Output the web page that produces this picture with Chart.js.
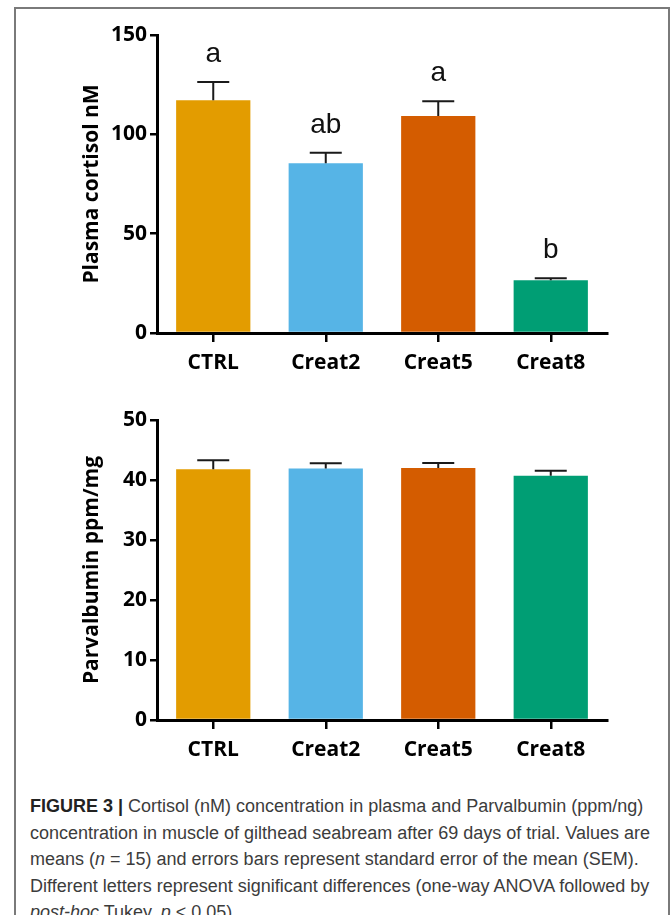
<!DOCTYPE html>
<html>
<head>
<meta charset="utf-8">
<script src="https://cdn.jsdelivr.net/npm/chart.js@4.4.1/dist/chart.umd.min.js"></script>
<style>
	body { margin: 0; background: #fff; width: 670px; height: 915px; overflow: hidden; position: relative; }
	#marc { position: absolute; left: 14px; top: 7px; width: 652px; height: 930px; border: 2px solid #7a7a7a; }
	canvas { position: absolute; left: 0; }
	#cortisol { top: 0; }
	#parv { top: 385px; }
	#peu { position: absolute; left: 30px; top: 793px; font-family: "Liberation Sans", Arial, sans-serif; font-size: 18px; line-height: 26.5px; color: #3c3c3c; }
	#peu div { white-space: nowrap; }
</style>
</head>
<body>
<div id="marc"></div>
<canvas id="cortisol" width="670" height="390"></canvas>
<canvas id="parv" width="670" height="390"></canvas>
<div id="peu">
	<div><b style="color:#222">FIGURE 3 |</b> Cortisol (nM) concentration in plasma and Parvalbumin (ppm/ng)</div>
	<div>concentration in muscle of gilthead seabream after 69 days of trial. Values are</div>
	<div>means (<i>n</i> = 15) and errors bars represent standard error of the mean (SEM).</div>
	<div>Different letters represent significant differences (one-way ANOVA followed by</div>
	<div><i>post-hoc</i> Tukey, <i>p</i> &lt; 0.05).</div>
</div>
<script>
// Grups i colors
const grups = ['CTRL', 'Creat2', 'Creat5', 'Creat8'];
const colors = ['#E39C00', '#56B4E6', '#D45C00', '#009E74'];

// Cortisol plasmàtic (nM)
const cortisol = [117.2, 85.5, 109.2, 26.6];
const cortisolSem = [9.2, 5.2, 7.5, 1.0];
const lletres = ['a', 'ab', 'a', 'b'];
const cortisolTicks = [0, 50, 100, 150];

// Parvalbumina (ppm/mg)
const parv = [41.8, 41.9, 42.0, 40.7];
const parvSem = [1.5, 0.9, 0.85, 0.85];
const parvTicks = [0, 10, 20, 30, 40, 50];

// dibuixa les barres d'error i les lletres de significació
const errorBars = {
	id: 'errorBars',
	afterDatasetsDraw(chart) {
		const ctx = chart.ctx;
		const ds = chart.data.datasets[0];
		const y = chart.scales.y;
		chart.getDatasetMeta(0).data.forEach((bar, i) => {
			let dalt = y.getPixelForValue(ds.data[i] + ds.errors[i]);
			ctx.save();
			ctx.strokeStyle = '#1a1a1a';
			ctx.lineWidth = 2;
			ctx.beginPath();
			ctx.moveTo(bar.x, bar.y);
			ctx.lineTo(bar.x, dalt);
			ctx.moveTo(bar.x - 16, dalt);
			ctx.lineTo(bar.x + 16, dalt);
			ctx.stroke();
			if (ds.lletres) {
				ctx.fillStyle = '#111';
				ctx.font = '28px "Liberation Sans", Arial, sans-serif';
				ctx.textAlign = 'center';
				ctx.textBaseline = 'alphabetic';
				ctx.fillText(ds.lletres[i], bar.x, dalt - 20);
			}
			ctx.restore();
		});
	}
};

function grafic(id, valors, errors, ticks, titol, lletresGrup) {
	const tickFont = { family: 'Open Sans', weight: 'bold', size: 21 };
	const config = {
		type: 'bar',
		data: {
			labels: grups,
			datasets: [{
				data: valors,
				errors: errors,
				lletres: lletresGrup,
				backgroundColor: colors,
				borderWidth: 0,
				barPercentage: 0.66,
				categoryPercentage: 1
			}]
		},
		options: {
			responsive: false,
			animation: false,
			layout: { padding: { left: 0, right: 63, top: 35, bottom: id === 'cortisol' ? 7 : 5 } },
			plugins: { legend: { display: false }, tooltip: { enabled: false } },
			scales: {
				x: {
					afterFit: (s) => { s.height = 50; },
					grid: { offset: false, drawOnChartArea: false, tickLength: 9, color: '#000', lineWidth: 2.5 },
					border: { color: '#000', width: 3 },
					ticks: { color: '#000', font: tickFont, padding: 8 }
				},
				y: {
					min: ticks[0],
					max: ticks[ticks.length - 1],
					afterFit: (s) => { s.width = 157; },
					afterBuildTicks: (s) => { s.ticks = ticks.map(v => ({ value: v })); },
					grid: { drawOnChartArea: false, tickLength: 7, color: '#000', lineWidth: 2.5 },
					border: { color: '#000', width: 3 },
					ticks: { color: '#000', font: tickFont, padding: 3 },
					title: {
						display: true,
						text: titol,
						color: '#000',
						font: { family: 'Open Sans', weight: 'bold', size: 21 },
						padding: { top: 79, bottom: 0 }
					}
				}
			}
		},
		plugins: [errorBars]
	};
	return new Chart(document.getElementById(id), config);
}

grafic('cortisol', cortisol, cortisolSem, cortisolTicks, 'Plasma cortisol nM', lletres);
grafic('parv', parv, parvSem, parvTicks, 'Parvalbumin ppm/mg', null);
</script>
</body>
</html>
